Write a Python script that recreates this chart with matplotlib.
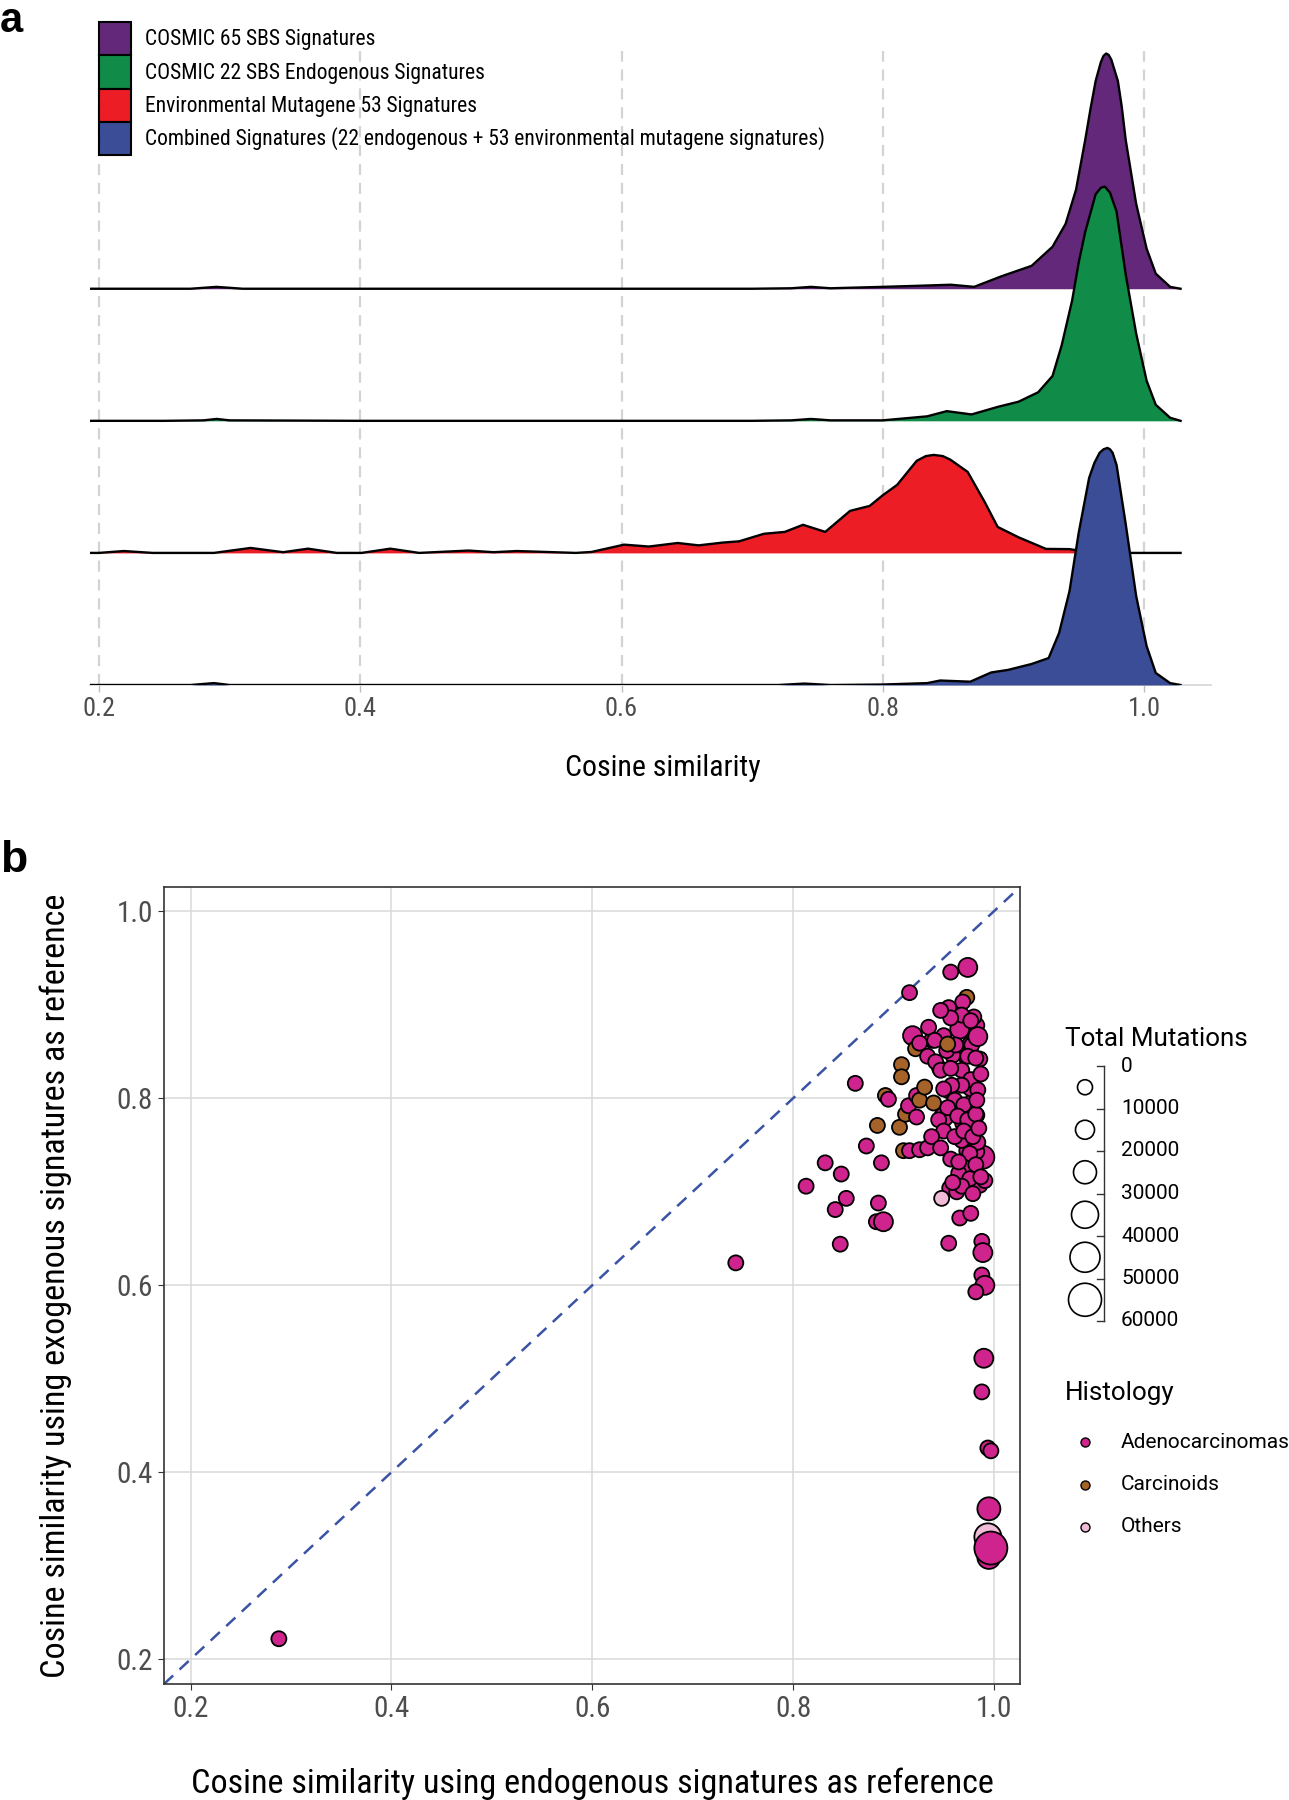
import matplotlib
matplotlib.use("Agg")
import matplotlib.pyplot as plt
from matplotlib import font_manager as fm
from matplotlib.patches import Patch
import numpy as np

# ---------------- data ----------------
# panel a: ridge densities (relative height, % of the tallest peak)
purple_x = [0.193, 0.22, 0.27, 0.29, 0.31, 0.40, 0.50, 0.60, 0.70, 0.73, 0.745, 0.76, 0.80, 0.83,
            0.852, 0.870, 0.891, 0.914, 0.930, 0.940, 0.948, 0.955, 0.959, 0.963, 0.967, 0.969,
            0.971, 0.973, 0.975, 0.980, 0.983, 0.986, 0.994, 1.002, 1.009, 1.020, 1.028]
purple_d = [0, 0, 0, 0.8, 0, 0, 0, 0, 0, 0.2, 0.8, 0.2, 0.8, 1.3,
            1.7, 0.8, 5.3, 9.7, 17.8, 27.5, 42, 63, 76, 88, 96, 98.6,
            99.6, 99, 97, 88, 77, 63, 36, 17, 6.4, 0.8, 0]

green_x = [0.193, 0.25, 0.28, 0.29, 0.30, 0.40, 0.50, 0.60, 0.70, 0.73, 0.745, 0.76, 0.80, 0.834,
           0.849, 0.868, 0.888, 0.904, 0.919, 0.930, 0.937, 0.945, 0.950, 0.955, 0.963, 0.967,
           0.970, 0.974, 0.979, 0.986, 0.994, 1.002, 1.009, 1.020, 1.028]
green_d = [0, 0, 0.2, 0.8, 0.2, 0, 0, 0, 0, 0.2, 0.8, 0.2, 0.2, 1.9,
           4.1, 2.7, 5.9, 8.1, 12.1, 19, 32, 51, 67, 80, 96, 98.7,
           99.2, 96.6, 88.6, 62, 37, 17, 6.8, 1.3, 0]

red_x = [0.193, 0.2, 0.219, 0.241, 0.288, 0.316, 0.341, 0.360, 0.382, 0.401, 0.423, 0.445, 0.483,
         0.502, 0.520, 0.565, 0.577, 0.602, 0.621, 0.643, 0.659, 0.678, 0.690, 0.709, 0.725,
         0.739, 0.756, 0.775, 0.790, 0.800, 0.811, 0.826, 0.833, 0.839, 0.846, 0.852, 0.865,
         0.878, 0.888, 0.904, 0.925, 0.943, 0.961, 1.028]
red_d = [0, 0, 0.8, 0, 0, 2.1, 0.3, 1.8, 0, 0, 1.8, 0, 1.0,
         0.3, 0.8, 0, 0.4, 3.5, 2.7, 4.2, 3.2, 4.4, 4.9, 8.1, 8.9,
         11.9, 8.9, 17.8, 19.9, 24.4, 28.8, 39, 41, 41.5, 41, 39.4, 34.3,
         21.6, 11, 6.6, 1.7, 1.6, 0, 0]

blue_x = [0.193, 0.27, 0.288, 0.30, 0.40, 0.60, 0.72, 0.74, 0.76, 0.80, 0.834, 0.844, 0.867, 0.883,
          0.896, 0.914, 0.927, 0.935, 0.943, 0.950, 0.958, 0.962, 0.966, 0.969, 0.972, 0.974,
          0.976, 0.979, 0.986, 0.994, 1.002, 1.009, 1.020, 1.028]
blue_d = [0, 0, 0.8, 0, 0, 0, 0, 0.6, 0, 0.2, 0.8, 1.9, 1.4, 5.3,
          6.4, 8.9, 11.4, 22, 39.8, 64.4, 87.7, 94, 98.3, 99.8, 100.4, 99.8,
          98.3, 93.2, 68.2, 37.7, 16.5, 5.1, 0.8, 0]

ridge_labels = ["COSMIC 65 SBS Signatures",
                "COSMIC 22 SBS Endogenous Signatures",
                "Environmental Mutagene 53 Signatures",
                "Combined Signatures (22 endogenous + 53 environmental mutagene signatures)"]
ridge_colors = ["#64287A", "#108B48", "#EC1D24", "#3A4D96"]

# panel b: per-sample cosine similarities
x_endo = [0.288, 0.743, 0.813, 0.832, 0.848, 0.853, 0.842, 0.847, 0.862, 0.873,
          0.888, 0.885, 0.883, 0.890, 0.884, 0.892, 0.895, 0.908, 0.908, 0.906,
          0.910, 0.916, 0.926, 0.912, 0.915, 0.923, 0.923, 0.926, 0.931, 0.940,
          0.916, 0.919, 0.922, 0.957, 0.974, 0.973, 0.955, 0.966, 0.977, 0.988,
          0.989, 0.988, 0.991, 0.982, 0.990, 0.988, 0.994, 0.997, 0.995, 0.995,
          0.994, 0.997,
          0.956, 0.963, 0.971, 0.973, 0.986, 0.991, 0.983, 0.968, 0.989, 0.983,
          0.973, 0.968, 0.984, 0.969, 0.983, 0.959, 0.978, 0.950, 0.955, 0.978,
          0.946, 0.968, 0.971, 0.959, 0.976, 0.938, 0.950, 0.935, 0.966, 0.955,
          0.969, 0.986, 0.983, 0.980, 0.968, 0.977, 0.957, 0.947, 0.941, 0.926,
          0.934, 0.942, 0.953, 0.962, 0.978, 0.984, 0.947, 0.957, 0.974, 0.982,
          0.977, 0.968, 0.958, 0.950, 0.961, 0.970, 0.984, 0.954, 0.964, 0.974,
          0.982, 0.945, 0.950, 0.961, 0.970, 0.979, 0.985, 0.976, 0.974, 0.982,
          0.965, 0.976, 0.987, 0.968, 0.979, 0.959, 0.934, 0.938, 0.947, 0.957,
          0.965, 0.987, 0.983, 0.954, 0.948]
y_exo = [0.222, 0.624, 0.706, 0.731, 0.719, 0.693, 0.681, 0.644, 0.816, 0.749,
         0.731, 0.688, 0.668, 0.668, 0.771, 0.803, 0.799, 0.836, 0.823, 0.769,
         0.744, 0.744, 0.745, 0.783, 0.792, 0.780, 0.803, 0.798, 0.812, 0.795,
         0.913, 0.867, 0.853, 0.935, 0.940, 0.908, 0.645, 0.672, 0.677, 0.647,
         0.635, 0.611, 0.600, 0.593, 0.522, 0.486, 0.426, 0.423, 0.361, 0.309,
         0.331, 0.319,
         0.704, 0.700, 0.707, 0.718, 0.707, 0.712, 0.720, 0.730, 0.737, 0.743,
         0.744, 0.755, 0.753, 0.773, 0.782, 0.789, 0.796, 0.780, 0.808, 0.812,
         0.832, 0.830, 0.846, 0.846, 0.858, 0.862, 0.867, 0.876, 0.874, 0.897,
         0.903, 0.842, 0.878, 0.887, 0.889, 0.883, 0.886, 0.894, 0.862, 0.859,
         0.845, 0.839, 0.851, 0.857, 0.857, 0.866, 0.830, 0.832, 0.845, 0.843,
         0.820, 0.814, 0.814, 0.810, 0.798, 0.793, 0.809, 0.790, 0.781, 0.777,
         0.783, 0.777, 0.765, 0.759, 0.765, 0.759, 0.768, 0.741, 0.725, 0.729,
         0.720, 0.714, 0.716, 0.706, 0.698, 0.710, 0.747, 0.759, 0.747, 0.735,
         0.732, 0.826, 0.798, 0.858, 0.693]
total_mut = [6000, 6000, 6000, 6000, 6000, 6000, 6000, 6000, 6000, 6000,
             6000, 6000, 6000, 15000, 6000, 6000, 6000, 6000, 6000, 6000,
             6000, 6000, 6000, 6000, 6000, 6000, 6000, 6000, 6000, 6000,
             6000, 15000, 6000, 6000, 15000, 6000, 6000, 6000, 6000, 6000,
             15000, 6000, 15000, 6000, 15000, 6000, 6000, 6000, 25000, 25000,
             35000, 55000,
             6000, 6000, 6000, 6000, 6000, 6000, 6000, 6000, 25000, 6000,
             6000, 6000, 6000, 6000, 6000, 6000, 6000, 15000, 6000, 15000,
             6000, 6000, 6000, 6000, 6000, 6000, 6000, 6000, 15000, 6000,
             6000, 6000, 6000, 6000, 6000, 6000, 6000, 6000, 6000, 6000,
             6000, 6000, 6000, 6000, 6000, 15000, 6000, 6000, 6000, 6000,
             6000, 6000, 6000, 6000, 6000, 6000, 6000, 6000, 6000, 6000,
             6000, 6000, 6000, 6000, 6000, 6000, 6000, 6000, 6000, 6000,
             6000, 6000, 6000, 6000, 6000, 6000, 6000, 6000, 6000, 6000,
             6000, 6000, 6000, 6000, 6000]
histology = (["A"] * 14
             + ["C", "C", "A", "C", "C", "C", "C", "A", "A", "C", "A", "A", "A", "C", "C", "C"]
             + ["A", "A", "C", "A", "A", "C", "A", "A", "A", "A",
                "A", "A", "A", "A", "A", "A", "A", "A", "A", "A", "O", "A"]
             + ["A"] * 83 + ["C", "O"])

hist_names = {"A": "Adenocarcinomas", "C": "Carcinoids", "O": "Others"}
hist_colors = {"A": "#CF248D", "C": "#A66329", "O": "#F0BBD6"}

size_bins = [0, 10000, 20000, 30000, 40000, 50000, 60000]
bin_diam_px = [15, 19, 23, 27, 30, 33]


# ---------------- fonts ----------------
def pick(names):
    avail = {f.name for f in fm.fontManager.ttflist}
    for n in names:
        if n in avail:
            return n
    return "DejaVu Sans"


narrow = pick(["Roboto Condensed", "Liberation Sans Narrow", "Arial Narrow"])
regular = pick(["Roboto", "Liberation Sans"])
bold = pick(["Liberation Sans", "DejaVu Sans"])
plt.rcParams["font.family"] = [narrow, "DejaVu Sans"]

W, H = 1289, 1800
fig = plt.figure(figsize=(W / 100, H / 100), dpi=100)


def rect(l, t, r, b):
    return [l / W, 1 - b / H, (r - l) / W, (b - t) / H]


# ---------------- panel a ----------------
ax = fig.add_axes(rect(90, 51, 1211, 685))
spacing_scale = 236 / 132 / 100
ridges = [(purple_x, purple_d), (green_x, green_d), (red_x, red_d), (blue_x, blue_d)]
for xv in [0.2, 0.4, 0.6, 0.8, 1.0]:
    ax.axvline(xv, color="#D3D3D3", lw=1.6, dashes=(5, 3.5), zorder=0)
for i, (xs, ds) in enumerate(ridges):
    base = 3 - i
    ys = base + np.array(ds) * spacing_scale
    ax.fill_between(xs, base, ys, color=ridge_colors[i], lw=0, zorder=2 + i * 2)
    ax.plot(xs, ys, color="black", lw=1.7, zorder=3 + i * 2, solid_joinstyle="round")

ax.set_xlim(0.1931, 1.0513)
ax.set_ylim(0, 4.8)
for s in ["top", "right", "left"]:
    ax.spines[s].set_visible(False)
ax.spines["bottom"].set_color("#DCDCDC")
ax.spines["bottom"].set_linewidth(1.4)
ax.set_yticks([])
ax.set_xticks([0.2, 0.4, 0.6, 0.8, 1.0])
ax.set_xticklabels(["0.2", "0.4", "0.6", "0.8", "1.0"])
ax.tick_params(axis="x", length=5, color="#BDBDBD", width=1, labelsize=19,
               labelcolor="#4D4D4D", pad=4)
ax.set_xlabel("Cosine similarity", fontsize=21.5, color="black")
ax.xaxis.set_label_coords((663 - 90) / (1211 - 90), -(768 - 685) / (685 - 51), transform=ax.transAxes)
ax.xaxis.label.set_va("center")

handles = [Patch(facecolor=c, edgecolor="black", lw=1.5) for c in ridge_colors]
fig.legend(handles, ridge_labels, loc="upper left", bbox_to_anchor=(99 / W, 1 - 22 / H),
           frameon=False, fontsize=15.5, handlelength=1.5, handleheight=2.0,
           labelspacing=0, handletextpad=0.65, borderpad=0, borderaxespad=0)

fig.text(0 / W, 1 - 1 / H, "a", fontsize=30, fontweight="bold", family=bold,
         ha="left", va="top")
fig.text(0 / W, 1 - 872 / H, "b", fontsize=32, fontweight="bold", family=bold,
         ha="left", va="baseline")

# ---------------- panel b ----------------
bx = fig.add_axes(rect(164, 887, 1020, 1684))
lim = (0.1736, 1.026)
bx.plot(lim, lim, color="#3A53A4", lw=1.8, dashes=(5, 3.5), zorder=2)
sizes = []
for m in total_mut:
    k = int(np.digitize(m, size_bins)) - 1
    sizes.append((bin_diam_px[k] * 0.72) ** 2)
bx.scatter(x_endo, y_exo, s=sizes, c=[hist_colors[h] for h in histology],
           edgecolors="black", linewidths=1.3, zorder=3)
bx.set_xlim(lim)
bx.set_ylim(lim)
ticks = [0.2, 0.4, 0.6, 0.8, 1.0]
bx.set_xticks(ticks)
bx.set_yticks(ticks)
bx.set_xticklabels(["0.2", "0.4", "0.6", "0.8", "1.0"])
bx.set_yticklabels(["0.2", "0.4", "0.6", "0.8", "1.0"])
bx.grid(True, color="#D9D9D9", lw=1.1, zorder=0)
bx.set_axisbelow(True)
for s in bx.spines.values():
    s.set_color("#333333")
    s.set_linewidth(1.2)
bx.tick_params(length=4, color="#333333", labelsize=21, labelcolor="#4D4D4D", pad=4)
bx.set_xlabel("Cosine similarity using endogenous signatures as reference",
              fontsize=24.6, labelpad=32)
bx.set_ylabel("Cosine similarity using exogenous signatures as reference",
              fontsize=24.6, labelpad=32)

# ---------------- panel b legends (pixel overlay) ----------------
lg = fig.add_axes([0, 0, 1, 1], zorder=5)
lg.set_xlim(0, W)
lg.set_ylim(H, 0)
lg.axis("off")
lg.text(1065, 1039, "Total Mutations", family=regular, fontsize=18.7, va="center", ha="left")
tick_y = [1066 + 42.5 * i for i in range(len(size_bins))]
lg.plot([1104, 1104], [tick_y[0], tick_y[-1]], color="#333333", lw=1.0)
for ty, lab in zip(tick_y, size_bins):
    lg.plot([1097, 1104], [ty, ty], color="#333333", lw=1.0)
    lg.text(1121, ty, str(lab), family=regular, fontsize=15, va="center", ha="left")
centers = [(tick_y[i] + tick_y[i + 1]) / 2 for i in range(len(bin_diam_px))]
lg.scatter([1085] * len(centers), centers, s=[(d * 0.72) ** 2 for d in bin_diam_px],
           facecolors="white", edgecolors="black", linewidths=1.2)

lg.text(1065, 1393, "Histology", family=regular, fontsize=18.7, va="center", ha="left")
for i, key in enumerate(["A", "C", "O"]):
    yy = 1442 + 42.5 * i
    lg.scatter([1085], [yy], s=(9 * 0.72) ** 2, color=hist_colors[key],
               edgecolors="black", linewidths=1.0)
    lg.text(1121, yy, hist_names[key], family=regular, fontsize=15, va="center", ha="left")

fig.savefig("out.png", dpi=100)
